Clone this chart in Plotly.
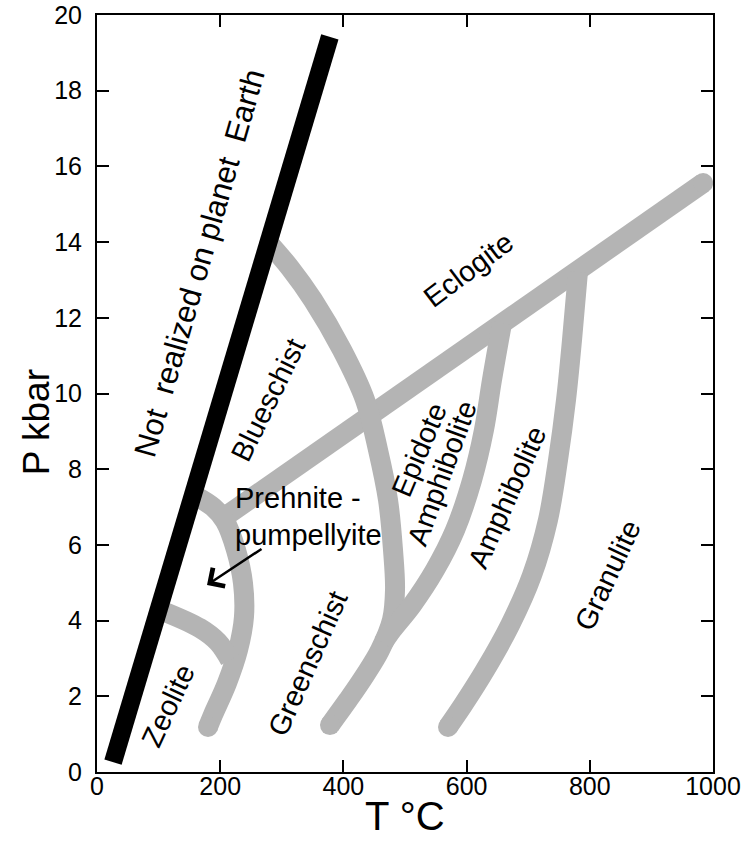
import plotly.graph_objects as go

# ---- data (T in °C, P in kbar) ----
T_black = [26, 378]
P_black = [0.26, 19.42]

T_eclogite = [204.5, 984]
P_eclogite = [6.71, 15.56]

# Prehnite-pumpellyite / blueschist / zeolite boundary
T_a = [157.5, 188.3, 207.8, 225.6, 237.0, 238.6, 228.9, 211.0, 188.3, 180.2]
P_a = [7.32, 7.00, 6.63, 5.87, 4.99, 4.10, 3.22, 2.35, 1.51, 1.19]

# Zeolite upper boundary
T_b = [102, 167.2, 196.4, 215.9]
P_b = [4.28, 3.80, 3.43, 2.96]

# Blueschist / greenschist arc
T_c = [274.4, 313.3, 350.6, 397.7, 435.1, 456.2, 472.4, 480.5, 483.8, 478.9, 459.4, 435.1, 407.5, 378.2]
P_c = [14.06, 13.32, 12.47, 11.15, 9.83, 8.51, 7.19, 5.87, 4.81, 4.02, 3.22, 2.56, 1.90, 1.24]

# Epidote amphibolite / amphibolite boundary
T_d = [657.5, 641.2, 628.2, 608.8, 581.2, 548.7, 511.4, 478.9, 464.3]
P_d = [11.86, 10.36, 9.04, 7.71, 6.39, 5.34, 4.41, 3.75, 3.41]

# Amphibolite / granulite boundary
T_e = [780.8, 771.1, 761.4, 748.4, 732.1, 706.2, 670.5, 629.9, 594.2, 569.8]
P_e = [13.21, 11.41, 9.83, 8.24, 6.66, 5.20, 3.88, 2.69, 1.77, 1.19]

label_text = ["Not  realized on planet  Earth", "Blueschist", "Eclogite", "Epidote",
              "Amphibolite", "Amphibolite", "Granulite", "Greenschist", "Zeolite"]
label_T = [167.2, 277.6, 602.3, 522.7, 560.0, 665.6, 829.5, 342.5, 115.3]
label_P = [13.45, 9.83, 13.26, 8.51, 7.90, 7.27, 5.20, 2.88, 1.74]
label_angle = [-74, -64, -37, -67, -70, -66, -65, -66, -65]
label_size = [31, 29, 29, 29, 29, 29, 29, 29, 29]

pp_text = ["Prehnite -", "pumpellyite"]
pp_T = [220.8, 220.8]
pp_P = [7.24, 6.26]

arrow_head = (178.6, 4.94)
arrow_tail = (269.5, 5.92)

x_ticks = [0, 200, 400, 600, 800, 1000]
y_ticks = [0, 2, 4, 6, 8, 10, 12, 14, 16, 18, 20]

GRAY = "#b4b4b4"
GW = 20
FONT = "Liberation Sans, Arial, sans-serif"

fig = go.Figure()

def gray_curve(T, P, cap_idx=()):
    fig.add_trace(go.Scatter(x=T, y=P, mode="lines",
                             line=dict(color=GRAY, width=GW, shape="spline", smoothing=1.0),
                             hoverinfo="skip", showlegend=False))
    if cap_idx:
        fig.add_trace(go.Scatter(x=[T[i] for i in cap_idx], y=[P[i] for i in cap_idx],
                                 mode="markers",
                                 marker=dict(color=GRAY, size=GW, line=dict(width=0)),
                                 hoverinfo="skip", showlegend=False))

gray_curve(T_eclogite, P_eclogite, cap_idx=(1,))
gray_curve(T_a, P_a, cap_idx=(len(T_a) - 1,))
gray_curve(T_b, P_b)
gray_curve(T_c, P_c, cap_idx=(len(T_c) - 1,))
gray_curve(T_d, P_d)
gray_curve(T_e, P_e, cap_idx=(len(T_e) - 1,))

fig.add_trace(go.Scatter(x=T_black, y=P_black, mode="lines",
                         line=dict(color="black", width=18),
                         hoverinfo="skip", showlegend=False))

annotations = []
for t, x, y, a, s in zip(label_text, label_T, label_P, label_angle, label_size):
    annotations.append(dict(x=x, y=y, xref="x", yref="y", text=t, showarrow=False,
                            textangle=a, xanchor="center", yanchor="middle",
                            font=dict(family=FONT, size=s, color="black")))
for t, x, y in zip(pp_text, pp_T, pp_P):
    annotations.append(dict(x=x, y=y, xref="x", yref="y", text=t, showarrow=False,
                            xanchor="left", yanchor="middle",
                            font=dict(family=FONT, size=29, color="black")))
annotations.append(dict(x=arrow_head[0], y=arrow_head[1], ax=arrow_tail[0], ay=arrow_tail[1],
                        xref="x", yref="y", axref="x", ayref="y", text="", showarrow=True,
                        arrowhead=4, arrowsize=1.7, arrowwidth=2.5, arrowcolor="black"))
annotations.append(dict(x=-0.099, y=0.462, xref="paper", yref="paper", text="P kbar",
                        showarrow=False, textangle=-90, xanchor="center", yanchor="middle",
                        font=dict(family=FONT, size=37, color="black")))
annotations.append(dict(x=0.5, y=-0.0585, xref="paper", yref="paper", text="T °C",
                        showarrow=False, xanchor="center", yanchor="middle",
                        font=dict(family=FONT, size=40, color="black")))

axis_common = dict(showline=True, linecolor="black", linewidth=2, mirror="ticks",
                   ticks="inside", ticklen=12, tickwidth=2, tickcolor="black",
                   showgrid=False, zeroline=False, automargin=False,
                   tickfont=dict(family=FONT, size=25, color="black"))

fig.update_layout(
    width=743, height=844,
    margin=dict(l=97, r=30, t=15, b=72, autoexpand=False),
    paper_bgcolor="white", plot_bgcolor="white",
    xaxis=dict(range=[0, 1000], tickvals=x_ticks, ticklabelstandoff=-9, **axis_common),
    yaxis=dict(range=[0, 20], tickvals=y_ticks, ticklabelstandoff=8, **axis_common),
    annotations=annotations,
    showlegend=False,
)

fig.write_html("out.html")
